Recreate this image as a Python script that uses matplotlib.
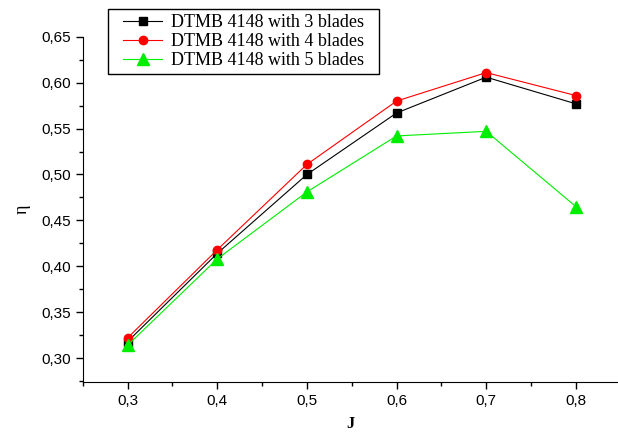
import matplotlib
matplotlib.use("Agg")
import matplotlib.pyplot as plt
from matplotlib.patches import Rectangle
from matplotlib.ticker import MultipleLocator, FuncFormatter

J = [0.3, 0.4, 0.5, 0.6, 0.7, 0.8]
eta3 = [0.318, 0.414, 0.500, 0.567, 0.606, 0.577]
eta4 = [0.322, 0.418, 0.511, 0.580, 0.611, 0.586]
eta5 = [0.314, 0.408, 0.481, 0.542, 0.547, 0.465]
labels = ["DTMB 4148 with 3 blades", "DTMB 4148 with 4 blades", "DTMB 4148 with 5 blades"]

fig = plt.figure(figsize=(6.18, 4.33), dpi=100)
ax = fig.add_axes([0.134, 0.118, 0.866, 0.797])

ax.plot(J, eta3, color="black", marker="s", markersize=6, lw=0.8, label=labels[0])
ax.plot(J, eta4, color="red", marker="o", markersize=6, lw=0.8, label=labels[1])
ax.plot(J, eta5, color="#00ee00", marker="^", markersize=8, lw=0.8, label=labels[2])

ax.set_xlim(0.25, 0.847)
ax.set_ylim(0.274, 0.65)
ax.xaxis.set_major_locator(MultipleLocator(0.1))
ax.xaxis.set_minor_locator(MultipleLocator(0.05))
ax.yaxis.set_major_locator(MultipleLocator(0.05))
ax.yaxis.set_minor_locator(MultipleLocator(0.025))
ax.xaxis.set_major_formatter(FuncFormatter(lambda v, p: ("%.1f" % v).replace(".", ",")))
ax.yaxis.set_major_formatter(FuncFormatter(lambda v, p: ("%.2f" % v).replace(".", ",")))
ax.tick_params(which="major", direction="out", length=5, width=1, labelsize=11)
ax.tick_params(which="minor", direction="out", length=3, width=1)
for lab in ax.get_xticklabels() + ax.get_yticklabels():
    lab.set_family("Liberation Sans")
ax.spines["top"].set_visible(False)
ax.spines["right"].set_visible(False)

ax.set_xlabel("J", fontsize=12, fontweight="bold", family="Liberation Serif", labelpad=6)
ax.set_ylabel("η", fontsize=13, family="Liberation Serif", labelpad=8)

leg = ax.legend(loc="upper left", bbox_to_anchor=(0.065, 1.081), frameon=False,
                prop={"family": "Liberation Serif", "size": 13},
                handlelength=2.2, handletextpad=0.45, borderpad=0.28, labelspacing=0.11,
                borderaxespad=0)

# legend box wider than the legend itself
fig.canvas.draw()
bb = leg.get_window_extent()
padx = 10
fig.patches.append(Rectangle((bb.x0 - padx, bb.y0), bb.width + 2 * padx, bb.height,
                             transform=None, fill=False, edgecolor="black", lw=1,
                             figure=fig))

fig.savefig("out.png", dpi=100)
